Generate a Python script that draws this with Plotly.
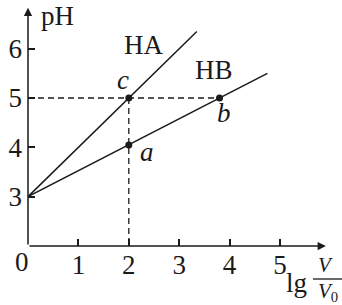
import plotly.graph_objects as go

# data
ha_x = [0, 3.35]
ha_y = [3, 6.35]
hb_x = [0, 4.75]
hb_y = [3, 5.5]
pt_names = ["a", "b", "c"]
pt_x = [2, 3.8, 2]
pt_y = [4.05, 5, 5]
x_ticks = [1, 2, 3, 4, 5]
y_ticks = [3, 4, 5, 6]

FONT = "Liberation Serif, Times New Roman, serif"
FS = 27
INK = "#1a1a1a"

# plot-area pixel frame
L, T, W, H = 28, 0, 314, 246

def px(xp):
    return (xp - L) / W

def py(yp):
    return (T + H - yp) / H

fig = go.Figure()
fig.add_trace(go.Scatter(x=[0, pt_x[1]], y=[pt_y[1], pt_y[1]], mode="lines",
                         line=dict(color=INK, width=1.3, dash="6px,4px"), hoverinfo="skip"))
fig.add_trace(go.Scatter(x=[pt_x[2], pt_x[2]], y=[pt_y[2], 2], mode="lines",
                         line=dict(color=INK, width=1.3, dash="6px,4px"), hoverinfo="skip"))
fig.add_trace(go.Scatter(x=ha_x, y=ha_y, mode="lines", line=dict(color=INK, width=1.5)))
fig.add_trace(go.Scatter(x=hb_x, y=hb_y, mode="lines", line=dict(color=INK, width=1.5)))
fig.add_trace(go.Scatter(x=pt_x, y=pt_y, mode="markers", marker=dict(color=INK, size=7)))

ann = []
ann.append(dict(x=0, y=6.83, ax=0, ay=2, xref="x", yref="y", axref="x", ayref="y",
                text="", showarrow=True, arrowhead=2, arrowsize=1.1, arrowwidth=1.5, arrowcolor=INK))
ann.append(dict(x=5.91, y=2, ax=0, ay=2, xref="x", yref="y", axref="x", ayref="y",
                text="", showarrow=True, arrowhead=2, arrowsize=1.1, arrowwidth=1.5, arrowcolor=INK))

def lab(xp, yp, t, size=FS):
    ann.append(dict(x=px(xp), y=py(yp), xref="paper", yref="paper", text=t, showarrow=False,
                    font=dict(family=FONT, size=size, color=INK), xanchor="center", yanchor="middle"))

lab(57, 16, "pH")
lab(143, 45, "HA")
lab(214, 70, "HB")
lab(123, 80, "<i>c</i>")
lab(224, 113, "<i>b</i>")
lab(147, 152, "<i>a</i>")
lab(22, 262, "0")
lab(296, 283, "lg")
lab(325, 265, "<i>V</i>", 21)
lab(328, 292, "<i>V</i><sub>0</sub>", 21)

fig.add_shape(type="line", x0=px(313), x1=px(345), y0=py(279), y1=py(279), xref="paper", yref="paper",
              line=dict(color=INK, width=1.3))

fig.update_layout(
    width=342, height=305, margin=dict(l=L, r=342 - L - W, t=T, b=305 - T - H),
    paper_bgcolor="white", plot_bgcolor="white", showlegend=False,
    annotations=ann,
    xaxis=dict(range=[0, 6.23], showgrid=False, zeroline=False, showline=False,
               tickvals=x_ticks, ticks="inside", ticklen=7, tickwidth=1.5, tickcolor=INK,
               tickfont=dict(family=FONT, size=FS, color=INK), ticklabelstandoff=0),
    yaxis=dict(range=[2, 6.987], showgrid=False, zeroline=False, showline=False,
               tickvals=y_ticks, ticks="inside", ticklen=7, tickwidth=1.5, tickcolor=INK,
               tickfont=dict(family=FONT, size=FS, color=INK), ticklabelstandoff=5),
)
fig.write_html("out.html")
